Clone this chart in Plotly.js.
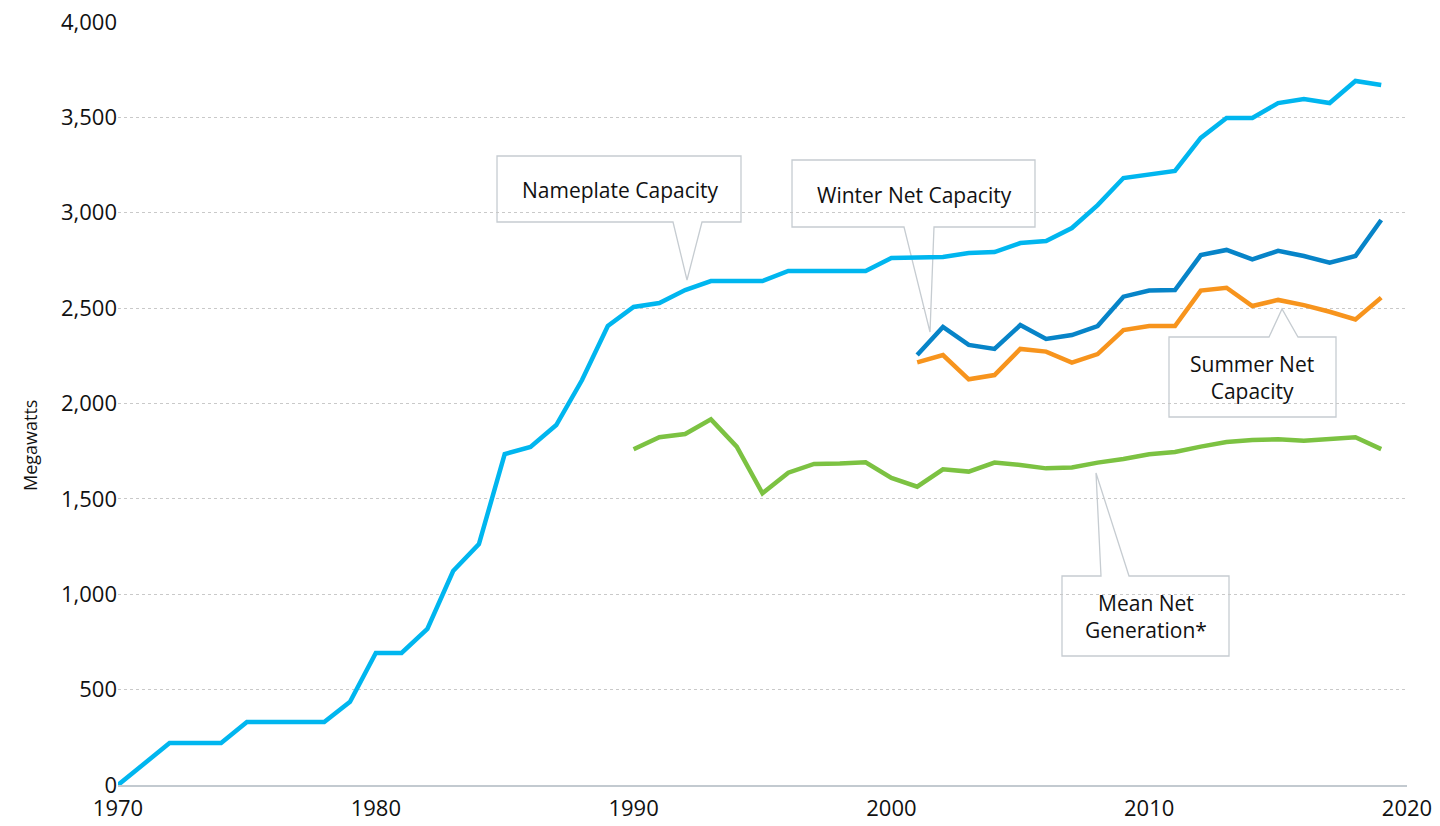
<!DOCTYPE html>
<html>
<head>
<meta charset="utf-8">
<script src="https://cdn.plot.ly/plotly-3.0.1.min.js"></script>
<style>
  html, body { margin: 0; padding: 0; background: #fff; }
  #chart { width: 1440px; height: 826px; }
</style>
</head>
<body>
<div id="chart"></div>
<script>
// ---- Data ----
const nameplateYears = [1970,1971,1972,1973,1974,1975,1976,1977,1978,1979,1980,1981,1982,1983,1984,1985,1986,1987,1988,1989,1990,1991,1992,1993,1994,1995,1996,1997,1998,1999,2000,2001,2002,2003,2004,2005,2006,2007,2008,2009,2010,2011,2012,2013,2014,2015,2016,2017,2018,2019];
const nameplateValues = [0,110,220,220,220,330,330,330,330,436,692,692,818,1122,1263,1735,1772,1887,2123,2406,2506,2527,2595,2642,2642,2642,2695,2695,2695,2695,2763,2763,2768,2789,2794,2841,2852,2920,3040,3182,3203,3219,3392,3497,3497,3575,3596,3575,3691,3670];

const netYears = [2001,2002,2003,2004,2005,2006,2007,2008,2009,2010,2011,2012,2013,2014,2015,2016,2017,2018,2019];
const winterValues = [2254,2401,2307,2286,2411,2338,2359,2406,2560,2592,2595,2778,2805,2756,2800,2773,2738,2773,2962];
const summerValues = [2216,2254,2127,2149,2286,2272,2214,2259,2385,2406,2406,2592,2607,2511,2543,2516,2481,2441,2555];

const meanYears = [1990,1991,1992,1993,1994,1995,1996,1997,1998,1999,2000,2001,2002,2003,2004,2005,2006,2007,2008,2009,2010,2011,2012,2013,2014,2015,2016,2017,2018,2019];
const meanValues = [1760,1823,1840,1917,1774,1529,1637,1683,1686,1692,1610,1564,1655,1643,1690,1678,1660,1665,1690,1709,1734,1746,1774,1798,1809,1812,1805,1815,1823,1761];

const xTicks = [1970,1980,1990,2000,2010,2020];
const yTicks = [0,500,1000,1500,2000,2500,3000,3500,4000];
const yTickText = ['0','500','1,000','1,500','2,000','2,500','3,000','3,500','4,000'];

// ---- Layout helpers (plot area pixel -> paper) ----
const PL = 118, PR = 1407, PT = 22, PB = 785;
const fx = p => (p - PL) / (PR - PL);
const fy = p => (PB - p) / (PB - PT);
const pt = (x, y) => fx(x).toFixed(5) + ',' + fy(y).toFixed(5);

function calloutBottom(l, t, r, b, ba, bb, tx, ty) {
  return 'M' + pt(l, t) + ' L' + pt(r, t) + ' L' + pt(r, b) + ' L' + pt(bb, b) +
         ' L' + pt(tx, ty) + ' L' + pt(ba, b) + ' L' + pt(l, b) + ' Z';
}
function calloutTop(l, t, r, b, ba, bb, tx, ty) {
  return 'M' + pt(l, t) + ' L' + pt(ba, t) + ' L' + pt(tx, ty) + ' L' + pt(bb, t) +
         ' L' + pt(r, t) + ' L' + pt(r, b) + ' L' + pt(l, b) + ' Z';
}

const boxLine = { color: '#c6ccd1', width: 1.3 };
const shapes = [
  { type: 'path', xref: 'paper', yref: 'paper', layer: 'between', fillcolor: '#ffffff', line: boxLine,
    path: calloutBottom(497, 156, 741, 222, 673, 702, 687, 280) },
  { type: 'path', xref: 'paper', yref: 'paper', layer: 'between', fillcolor: '#ffffff', line: boxLine,
    path: calloutBottom(792, 160, 1035, 227, 904, 934, 930, 332) },
  { type: 'path', xref: 'paper', yref: 'paper', layer: 'between', fillcolor: '#ffffff', line: boxLine,
    path: calloutTop(1169, 337, 1336, 417, 1269, 1298, 1282, 309) },
  { type: 'path', xref: 'paper', yref: 'paper', layer: 'between', fillcolor: '#ffffff', line: boxLine,
    path: calloutTop(1062, 576, 1229, 656, 1101, 1129, 1096, 473) }
];

const FONT = 'Open Sans, Noto Sans, sans-serif';
const annFont = { family: FONT, size: 21, color: '#111111' };
const annotations = [
  { xref: 'paper', yref: 'paper', x: fx(620), y: fy(190), text: 'Nameplate Capacity', showarrow: false, font: annFont, xanchor: 'center', yanchor: 'middle' },
  { xref: 'paper', yref: 'paper', x: fx(914), y: fy(195), text: 'Winter Net Capacity', showarrow: false, font: annFont, xanchor: 'center', yanchor: 'middle' },
  { xref: 'paper', yref: 'paper', x: fx(1252), y: fy(377), text: 'Summer Net<br>Capacity', showarrow: false, font: annFont, xanchor: 'center', yanchor: 'middle' },
  { xref: 'paper', yref: 'paper', x: fx(1146), y: fy(616), text: 'Mean Net<br>Generation*', showarrow: false, font: annFont, xanchor: 'center', yanchor: 'middle' },
  { xref: 'paper', yref: 'paper', x: fx(30), y: fy(446), text: 'Megawatts', showarrow: false, textangle: -90,
    font: { family: FONT, size: 18, color: '#111111' }, xanchor: 'center', yanchor: 'middle' }
];

const lw = 4.5;
const traces = [
  { x: nameplateYears, y: nameplateValues, name: 'Nameplate Capacity', type: 'scatter', mode: 'lines',
    line: { color: '#00b6ef', width: lw } },
  { x: netYears, y: winterValues, name: 'Winter Net Capacity', type: 'scatter', mode: 'lines',
    line: { color: '#0784c8', width: lw } },
  { x: netYears, y: summerValues, name: 'Summer Net Capacity', type: 'scatter', mode: 'lines',
    line: { color: '#f7941d', width: lw } },
  { x: meanYears, y: meanValues, name: 'Mean Net Generation*', type: 'scatter', mode: 'lines',
    line: { color: '#7cc242', width: lw } }
];

const layout = {
  width: 1440, height: 826,
  margin: { l: PL, r: 1440 - PR, t: PT, b: 826 - PB, pad: 0 },
  paper_bgcolor: '#ffffff', plot_bgcolor: '#ffffff',
  showlegend: false,
  font: { family: FONT, color: '#111111' },
  xaxis: {
    range: [1970, 2020], tickvals: xTicks, ticktext: xTicks.map(String),
    showgrid: false, zeroline: false, showline: true, linecolor: '#c3cad0', linewidth: 1.5,
    ticks: '', ticklabelstandoff: 3, tickfont: { family: FONT, size: 22, color: '#111111' }, fixedrange: true
  },
  yaxis: {
    range: [0, 4000], tickvals: yTicks, ticktext: yTickText,
    showgrid: true, gridcolor: '#c9c9c9', griddash: 'dot', gridwidth: 1,
    zeroline: false, showline: false, ticks: '',
    tickfont: { family: FONT, size: 22, color: '#111111' }, fixedrange: true
  },
  shapes: shapes,
  annotations: annotations
};

Plotly.newPlot('chart', traces, layout, { displayModeBar: false, staticPlot: true });
</script>
</body>
</html>
